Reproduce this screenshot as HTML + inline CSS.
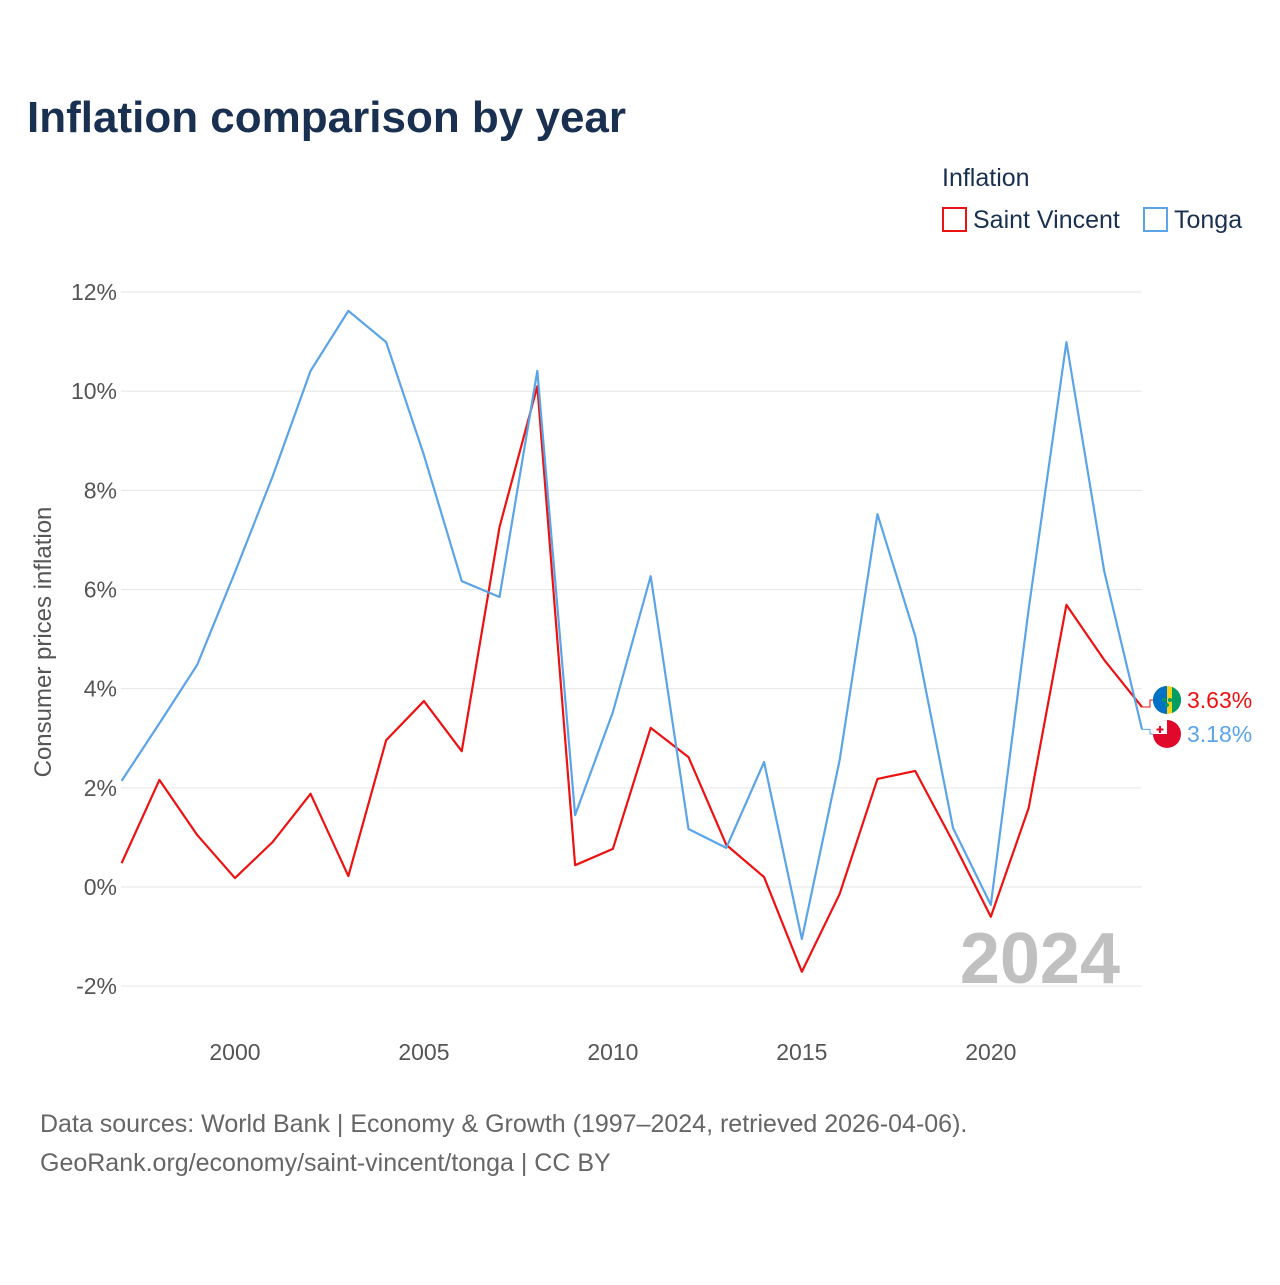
<!DOCTYPE html>
<html><head><meta charset="utf-8"><style>
body{margin:0;background:#fff;font-family:"Liberation Sans",sans-serif;}
</style></head><body>
<svg width="1280" height="1280" xmlns="http://www.w3.org/2000/svg" style="font-family:'Liberation Sans',sans-serif">
<text x="27" y="132" font-size="44" font-weight="bold" fill="#1a3050">Inflation comparison by year</text>
<text x="942" y="186" font-size="25" fill="#1a3050">Inflation</text>
<g><rect x="943" y="208" width="23" height="23" fill="none" stroke="#ee1111" stroke-width="2"/><text x="973" y="228" font-size="25" fill="#1a3050">Saint Vincent</text></g>
<g><rect x="1144" y="208" width="23" height="23" fill="none" stroke="#5ba4e8" stroke-width="2"/><text x="1174" y="228" font-size="25" fill="#1a3050">Tonga</text></g>
<g id="grid"></g><g id="yt"></g><g id="xt"></g>
<text x="1120" y="983" font-size="72" font-weight="bold" fill="#c0c0c0" text-anchor="end">2024</text>
<g id="lines"></g>
<text transform="translate(51,642) rotate(-90)" font-size="24" fill="#555" text-anchor="middle">Consumer prices inflation</text>
<text x="40" y="1132" font-size="25" fill="#666">Data sources: World Bank | Economy &amp; Growth (1997–2024, retrieved 2026-04-06).</text>
<text x="40" y="1171" font-size="25" fill="#666">GeoRank.org/economy/saint-vincent/tonga | CC BY</text>
</svg>
<script>
const years=[1997,1998,1999,2000,2001,2002,2003,2004,2005,2006,2007,2008,2009,2010,2011,2012,2013,2014,2015,2016,2017,2018,2019,2020,2021,2022,2023,2024];
const tonga=[2.14,3.3,4.48,6.35,8.29,10.41,11.62,10.99,8.71,6.17,5.85,10.41,1.45,3.53,6.27,1.17,0.79,2.52,-1.05,2.56,7.52,5.06,1.19,-0.36,5.6,10.99,6.37,3.18];
const stVincent=[0.48,2.16,1.05,0.18,0.91,1.88,0.22,2.96,3.75,2.74,7.26,10.1,0.44,0.77,3.21,2.62,0.85,0.2,-1.71,-0.14,2.18,2.34,0.91,-0.6,1.59,5.69,4.58,3.63];
const yTicks=[-2,0,2,4,6,8,10,12];
const xTicks=[2000,2005,2010,2015,2020];
const NS="http://www.w3.org/2000/svg";
const X=y=>121.6+(y-1997)*(1142-121.6)/27;
const Y=v=>887-v*49.58;
function mk(t,a,p){const e=document.createElementNS(NS,t);for(const k in a)e.setAttribute(k,a[k]);document.getElementById(p).appendChild(e);return e;}
yTicks.forEach(v=>{
 const l=mk('line',{x1:121,x2:1142,y1:Y(v),y2:Y(v),stroke:'#e6e6e6','stroke-width':1},'grid');
 
 
 const t=mk('text',{x:117,y:Y(v)+8,'font-size':23,fill:'#555','text-anchor':'end'},'yt');
 t.textContent=v+'%';
 
 
});
xTicks.forEach(v=>{
 const t=mk('text',{x:X(v),y:1060,'font-size':23,fill:'#555','text-anchor':'middle'},'xt');
 t.textContent=v;
 
 
});
function series(vals,col,name,ly,label){
 const p=mk('polyline',{points:vals.map((v,i)=>X(years[i])+','+Y(v)).join(' '),fill:'none',stroke:col,'stroke-width':2.2,'stroke-linejoin':'round'},'lines');
 
 
 const ex=X(years[years.length-1]),ey=Y(vals[vals.length-1]);
 const c=mk('polyline',{points:ex+','+ey+' '+(ex+8)+','+ey+' '+(ex+8)+','+ly+' '+(ex+14)+','+ly,fill:'none',stroke:col,'stroke-width':1},'lines');
 
 
 const t=mk('text',{x:1187,y:ly+8,'font-size':23,fill:col},'lines');
 t.textContent=label;
 
 
}
series(stVincent,'#ee1111','saint-vincent',700,stVincent[27].toFixed(2)+'%');
series(tonga,'#5ba4e8','tonga',734,tonga[27].toFixed(2)+'%');
let f=mk('g',{},'lines');


f.innerHTML='<circle cx="1167" cy="700" r="14" fill="#f7d116"/><path d="M1167 686 a14 14 0 0 0 0 28 M1162 686.9 a14 14 0 0 0 0 26.2 L1162 686.9Z" fill="#0072c6"/><path d="M1172 686.9 a14 14 0 0 1 0 26.2Z" fill="#009e60"/><circle cx="1164" cy="700" r="2" fill="#009e60"/><circle cx="1170" cy="700" r="2" fill="#009e60"/><circle cx="1167" cy="705" r="2" fill="#009e60"/>';
f=mk('g',{},'lines');


f.innerHTML='<circle cx="1167" cy="734" r="14" fill="#e0092b"/><path d="M1153 734 a14 14 0 0 1 14 -14 L1167 734Z" fill="#fff"/><rect x="1159" y="726" width="2" height="7" fill="#e0092b"/><rect x="1156.5" y="728.5" width="7" height="2" fill="#e0092b"/>';
</script>
</body></html>
